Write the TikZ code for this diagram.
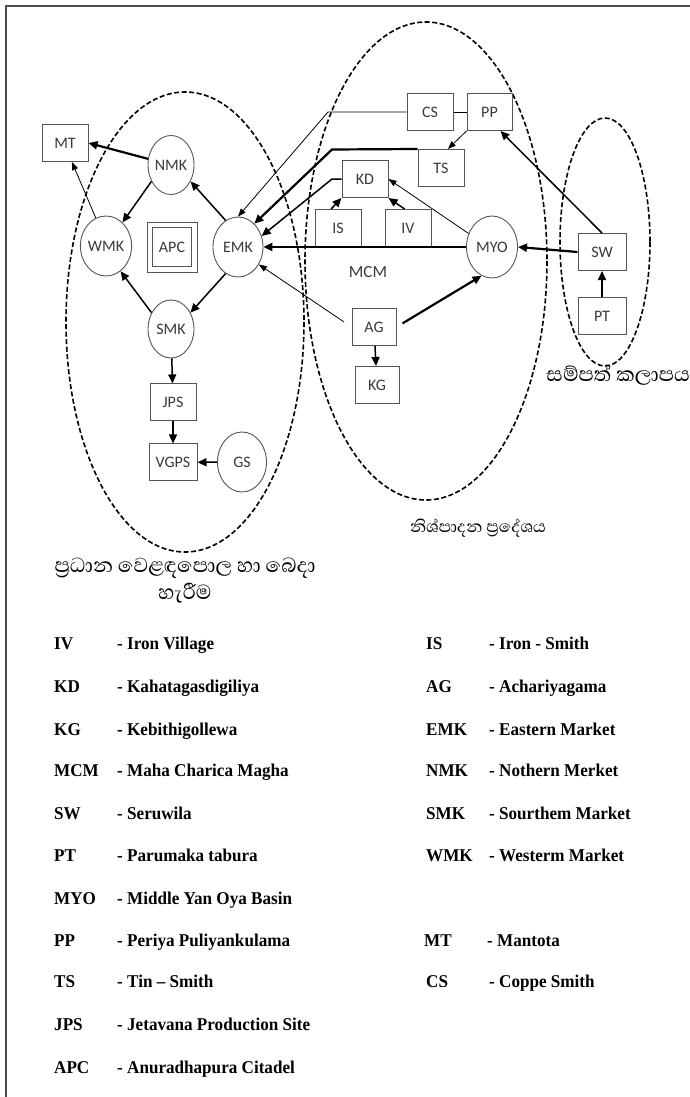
\documentclass[tikz,border=0pt]{standalone}
\usepackage{fontspec}
\setmainfont{Liberation Serif}
\newfontfamily\lblfont{Carlito}
\newfontfamily\sinfont[Script=Sinhala]{Abhaya Libre}
\newfontfamily\legfont[FakeStretch=0.95]{Liberation Serif}
\usepackage{tikz}
\usetikzlibrary{arrows.meta,positioning,shapes.geometric}
\definecolor{edge}{HTML}{555555}
\definecolor{ink}{HTML}{3A3A3A}
\newcommand{\legitem}[2]{\makebox[63pt][l]{#1}- #2}
\tikzset{
  box/.style={rectangle, draw=edge, line width=1pt, fill=white, minimum width=46pt, minimum height=37pt,
              inner sep=0pt, font=\lblfont\fontsize{16}{16}\selectfont, text=ink},
  mkt/.style={ellipse, draw=edge, line width=0.9pt, fill=white, minimum width=48pt, minimum height=60pt,
              inner sep=0pt, font=\lblfont\fontsize{16}{16}\selectfont, text=ink},
  citadel/.style={box, double=white, double distance=4.5pt, minimum width=44.5pt, minimum height=44.5pt},
  lbl/.style={font=\lblfont\fontsize{17}{17}\selectfont, text=ink, inner sep=0pt},
  flow/.style={-{Triangle[length=9pt,width=8pt]}, draw=black, line width=1.5pt},
  thinflow/.style={-{Triangle[length=8pt,width=6pt]}, draw=black, line width=0.8pt},
  thickflow/.style={flow, line width=2.2pt},
  link/.style={draw=black, line width=0.8pt},
  zone/.style={draw=black, line width=1.6pt, dash pattern=on 5pt off 2.5pt},
  zonelbl/.style={font=\sinfont\fontsize{26}{27}\selectfont, align=center, inner sep=0pt},
  legend/.style={font=\legfont\bfseries\fontsize{18}{18}\selectfont, anchor=base west, inner sep=0pt}
}
\begin{document}
\begin{tikzpicture}[x=1pt, y=-1pt, node distance=20pt]
 \useasboundingbox (0,0) rectangle (690,1097);
 \draw[line width=2pt, black!70] (6,1097) -- (6,6) -- (690,6);
 \draw[zone] (185,322) ellipse [x radius=119, y radius=230];
 \draw[zone] (426,261) ellipse [x radius=121, y radius=239];
 \draw[zone] (605,242) ellipse [x radius=45, y radius=124];

 \node[box] (MT) at (65,143) {MT};
 \node[mkt, minimum width=46pt, minimum height=59pt] (NMK) at (171,165) {NMK};
 \node[mkt] (WMK) at (106,246) {WMK};
 \node[citadel] (APC) at (172,247) {APC};
 \node[mkt, minimum width=50pt] (EMK) at (238,247) {EMK};
 \node[mkt, minimum width=46pt, minimum height=58pt] (SMK) at (171,329) {SMK};
 \node[box, below=25pt of SMK, xshift=2pt] (JPS) {JPS};
 \node[box, below=22pt of JPS, minimum width=48pt] (VGPS) {VGPS};
 \node[mkt, minimum width=49pt] (GS) at (242,462) {GS};
 \node[box] (CS) at (430,112) {CS};
 \node[box, right=13pt of CS, minimum width=45pt] (PP) {PP};
 \node[box] (TS) at (441,168) {TS};
 \node[box] (KD) at (365,179) {KD};
 \node[box] (IS) at (338,228) {IS};
 \node[box, right=23pt of IS] (IV) {IV};
 \node[mkt, minimum width=51pt, minimum height=62pt] (MYO) at (492,247) {MYO};
 \node[lbl] (MCM) at (368,272) {MCM};
 \node[box, minimum width=48pt] (SW) at (602,252) {SW};
 \node[box, minimum width=48pt, below=26pt of SW] (PT) {PT};
 \node[box, minimum width=44pt] (AG) at (374,327) {AG};
 \node[box, minimum width=44pt, below=20pt of AG, xshift=3pt] (KG) {KG};
 \coordinate (csbend) at (328,112);
 \coordinate (tsbend) at (332,149.5);
 \coordinate (kdbend) at (332,179);

 \draw[thickflow] (NMK.165) -- (MT.east);
 \draw[thinflow] (WMK.110) -- (MT.290);
 \draw[flow] (NMK.220) -- (WMK.55);
 \draw[flow] (EMK.115) -- (NMK.-40);
 \draw[flow] (EMK.245) -- (SMK.40);
 \draw[flow] (SMK.140) -- (WMK.-60);
 \draw[flow] (SMK) -- (JPS);
 \draw[flow] (JPS) -- (VGPS);
 \draw[flow] (GS) -- (VGPS);
 \draw[thinflow] (CS.west) -- (csbend) -- (EMK.north);
 \draw[thickflow] (TS.north west) -- (tsbend) -- (EMK.55);
 \draw[flow] (KD.west) -- (kdbend) -- (EMK.25);
 \draw[thickflow] (MYO.west) -- (EMK.east);
 \draw[thinflow] (MYO.150) -- (KD.east);
 \draw[flow] (IS.110) -- (KD.south west);
 \draw[flow] (IV.100) -- (KD.south east);
 \draw[link] (CS.east) -- (PP.west);
 \draw[thinflow] (PP.south west) -- (TS.70);
 \draw[flow] (SW.north) -- (PP.300);
 \draw[thickflow] (SW.west) -- (MYO.east);
 \draw[flow] (PT) -- (SW);
 \draw[flow] (AG) -- (KG);
 \draw[thinflow, shorten <=9pt] (AG.west) -- (EMK.-40);
 \draw[thickflow, shorten <=7pt] (AG.east) -- (MYO.250);

 \node[zonelbl] (zmarket) at (185,581) {ප්^^^^200dරධාන වෙළඳපොල හා බෙදා\\හැරීම};
 \node[zonelbl, font=\sinfont\fontsize{21}{21}\selectfont] (zprod) at (478,528) {නිශ්පාදන ප්^^^^200dරදේශය};
 \node[zonelbl, anchor=west] (zres) at (546,375) {සම්පත් කලාපය};

 \node[legend] (lgIV) at (54,649) {\legitem{IV}{Iron Village}};
 \node[legend] (lgKD) at (54,692) {\legitem{KD}{Kahatagasdigiliya}};
 \node[legend] (lgKG) at (54,735) {\legitem{KG}{Kebithigollewa}};
 \node[legend] (lgMCM) at (54,776) {\legitem{MCM}{Maha Charica Magha}};
 \node[legend] (lgSW) at (54,819) {\legitem{SW}{Seruwila}};
 \node[legend] (lgPT) at (54,861) {\legitem{PT}{Parumaka tabura}};
 \node[legend] (lgMYO) at (54,904) {\legitem{MYO}{Middle Yan Oya Basin}};
 \node[legend] (lgPP) at (54,946) {\legitem{PP}{Periya Puliyankulama}};
 \node[legend] (lgTS) at (54,987) {\legitem{TS}{Tin – Smith}};
 \node[legend] (lgJPS) at (54,1030) {\legitem{JPS}{Jetavana Production Site}};
 \node[legend] (lgAPC) at (54,1073) {\legitem{APC}{Anuradhapura Citadel}};
 \node[legend] (lgIS) at (426,649) {\legitem{IS}{Iron - Smith}};
 \node[legend] (lgAG) at (426,692) {\legitem{AG}{Achariyagama}};
 \node[legend] (lgEMK) at (426,735) {\legitem{EMK}{Eastern Market}};
 \node[legend] (lgNMK) at (426,776) {\legitem{NMK}{Nothern Merket}};
 \node[legend] (lgSMK) at (426,819) {\legitem{SMK}{Sourthem Market}};
 \node[legend] (lgWMK) at (426,861) {\legitem{WMK}{Westerm Market}};
 \node[legend] (lgMT) at (424,946) {\legitem{MT}{Mantota}};
 \node[legend] (lgCS) at (426,987) {\legitem{CS}{Coppe Smith}};
\end{tikzpicture}
\end{document}
